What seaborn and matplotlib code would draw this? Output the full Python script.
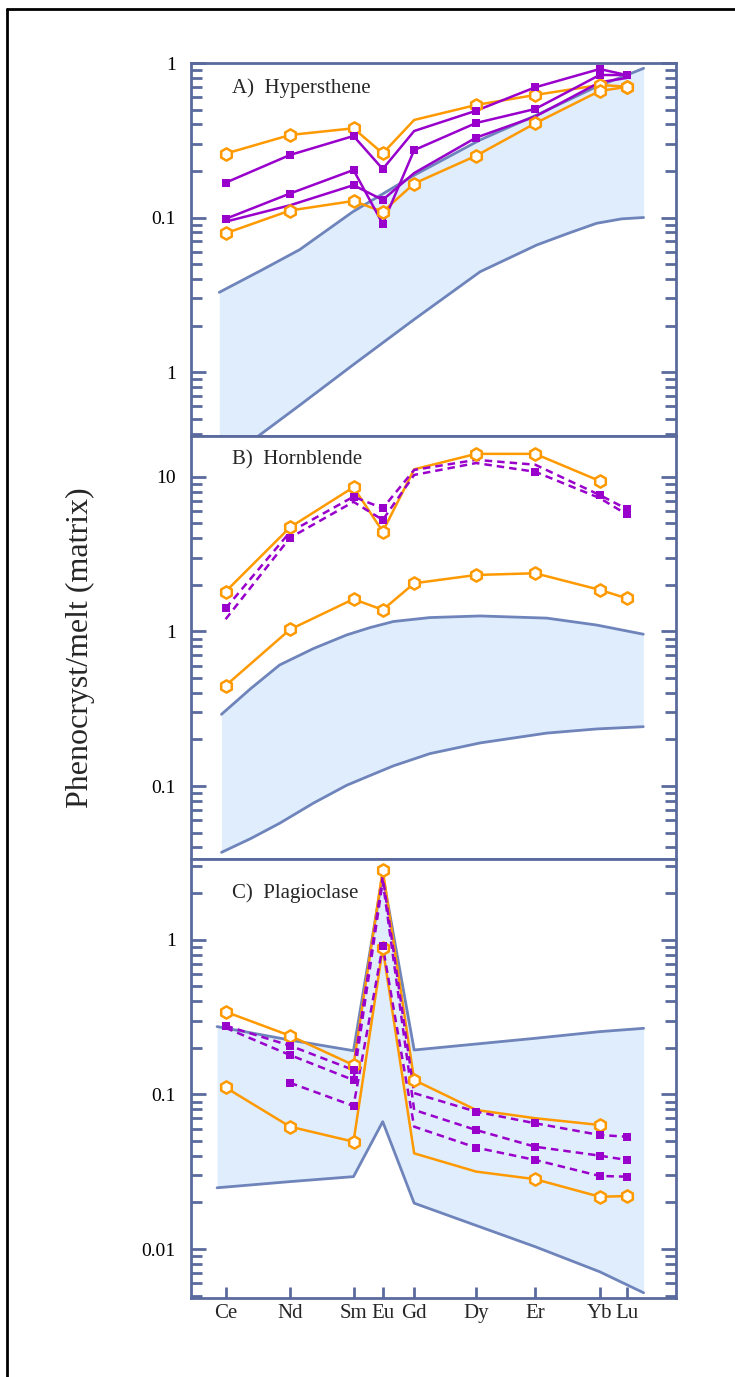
import numpy as np
import pandas as pd
import matplotlib.pyplot as plt
from matplotlib.ticker import LogLocator, NullFormatter
from matplotlib.lines import Line2D
import seaborn as sns

nan = np.nan

# REE on the x axis (positions as spaced in the original figure)
elements = ['Ce', 'Nd', 'Sm', 'Eu', 'Gd', 'Dy', 'Er', 'Yb', 'Lu']
element_x = [0, 2.05, 4.07, 5.0, 6.0, 7.97, 9.85, 11.9, 12.76]

# A) Hypersthene
hyp_orange_1 = [0.259, 0.342, 0.378, 0.260, 0.428, 0.535, 0.621, 0.721, 0.703]
hyp_orange_2 = [0.079, 0.111, 0.128, 0.109, 0.166, 0.251, 0.407, 0.659, 0.70]
hyp_purple_1 = [0.168, 0.254, 0.337, 0.206, 0.363, 0.491, 0.696, 0.914, 0.836]
hyp_purple_2 = [0.098, 0.143, 0.203, 0.091, 0.273, 0.409, 0.504, 0.836, 0.836]
hyp_purple_3 = [0.094, 0.120, 0.162, 0.130, 0.194, 0.329, 0.45, 0.75, 0.80]
hyp_band_x = [-0.2, 1.15, 2.36, 4.05, 5.96, 8.1, 9.9, 10.9, 11.8, 12.6, 13.3]
hyp_band_hi = [0.0328, 0.0457, 0.062, 0.109, 0.186, 0.318, 0.461, 0.575, 0.703, 0.81, 0.924]
hyp_band_lo = [0.0025, 0.0040, 0.0061, 0.0111, 0.0216, 0.0446, 0.0664, 0.079, 0.0917, 0.098, 0.100]

# B) Hornblende
hbl_orange_1 = [1.81, 4.72, 8.58, 4.43, 11.2, 14.1, 14.1, 9.42, nan]
hbl_orange_2 = [0.446, 1.03, 1.62, 1.38, 2.05, 2.32, 2.38, 1.86, 1.64]
hbl_purple_1 = [1.41, 4.4, 7.45, 6.27, 11.1, 12.9, 12.0, 7.64, 6.21]
hbl_purple_2 = [1.2, 4.04, 6.9, 5.27, 10.3, 12.3, 10.8, 7.3, 5.73]
hbl_band_x = [-0.13, 0.8, 1.72, 2.8, 3.85, 4.6, 5.34, 6.5, 8.10, 10.22, 11.81, 13.29]
hbl_band_hi = [0.291, 0.427, 0.607, 0.776, 0.949, 1.06, 1.16, 1.23, 1.26, 1.22, 1.10, 0.96]
hbl_band_lo = [0.0372, 0.0457, 0.0574, 0.0776, 0.101, 0.117, 0.135, 0.162, 0.19, 0.22, 0.234, 0.242]

# C) Plagioclase
plg_orange_1 = [0.343, 0.240, 0.155, 2.84, 0.124, 0.0794, 0.0702, 0.0635, nan]
plg_orange_2 = [0.111, 0.0619, 0.0495, 0.884, 0.0416, 0.0317, 0.0283, 0.0218, 0.0220]
plg_purple_1 = [0.279, 0.207, 0.144, 2.57, 0.102, 0.0774, 0.0651, 0.0547, 0.0533]
plg_purple_2 = [0.27, 0.180, 0.124, 2.4, 0.0794, 0.0589, 0.0459, 0.0402, 0.0377]
plg_purple_3 = [nan, 0.119, 0.0843, 0.914, 0.0619, 0.0453, 0.0377, 0.0297, 0.0294]
plg_band_x = [-0.27, 2.05, 4.07, 5.0, 6.0, 9.85, 11.9, 13.3]
plg_band_hi = [0.275, 0.225, 0.192, 2.64, 0.194, 0.231, 0.255, 0.268]
plg_band_lo = [0.0249, 0.0273, 0.0294, 0.0667, 0.0198, 0.01035, 0.00713, 0.00521]

ORANGE = '#FF9900'
PURPLE = '#9900CC'
BAND_FILL = '#DFEDFD'
BAND_LINE = '#6E84BA'
AXIS = '#5A6A9C'

sns.set_style('ticks')
plt.rcParams['font.family'] = ['Liberation Serif', 'DejaVu Serif']


def draw_band(ax, bx, lo, hi):
    ax.fill_between(bx, lo, hi, color=BAND_FILL, lw=0, zorder=1)
    for yy in (lo, hi):
        sns.lineplot(x=bx, y=yy, ax=ax, color=BAND_LINE, lw=2, zorder=2)


def draw_sample(ax, vals, color, dashed=False, skip=()):
    df = pd.DataFrame({'el': elements, 'x': element_x, 'v': vals}).dropna()
    ls = (0, (3, 2)) if dashed else '-'
    sns.lineplot(data=df, x='x', y='v', ax=ax, color=color, lw=1.8,
                 linestyle=ls, zorder=3, errorbar=None)
    pts = df[~df['el'].isin(skip)]
    if color == ORANGE:
        sns.scatterplot(data=pts, x='x', y='v', ax=ax, marker='h', s=78,
                        color='white', edgecolor=ORANGE, linewidth=1.8, zorder=4)
    else:
        sns.scatterplot(data=pts, x='x', y='v', ax=ax, marker='s', s=34,
                        color=PURPLE, edgecolor=PURPLE, linewidth=0, zorder=4)


fig, axes = plt.subplots(3, 1, figsize=(7.35, 13.77), dpi=100, sharex=True,
                         gridspec_kw={'height_ratios': [373, 423, 439], 'hspace': 0})
fig.subplots_adjust(left=191 / 735, right=676 / 735, top=1 - 63 / 1377, bottom=1 - 1298 / 1377)
ax_a, ax_b, ax_c = axes
for ax in axes:
    ax.set_yscale('log')

# panel A
draw_band(ax_a, hyp_band_x, hyp_band_lo, hyp_band_hi)
draw_sample(ax_a, hyp_orange_1, ORANGE, skip=('Gd',))
draw_sample(ax_a, hyp_orange_2, ORANGE)
draw_sample(ax_a, hyp_purple_3, PURPLE, skip=('Ce', 'Nd', 'Gd', 'Er', 'Yb', 'Lu'))
draw_sample(ax_a, hyp_purple_2, PURPLE)
draw_sample(ax_a, hyp_purple_1, PURPLE, skip=('Gd',))

# panel B
draw_band(ax_b, hbl_band_x, hbl_band_lo, hbl_band_hi)
draw_sample(ax_b, hbl_orange_2, ORANGE)
draw_sample(ax_b, hbl_orange_1, ORANGE, skip=('Gd',))
draw_sample(ax_b, hbl_purple_1, PURPLE, dashed=True, skip=('Nd', 'Gd', 'Dy', 'Er'))
draw_sample(ax_b, hbl_purple_2, PURPLE, dashed=True, skip=('Ce', 'Sm', 'Gd', 'Dy', 'Yb'))

# panel C
draw_band(ax_c, plg_band_x, plg_band_lo, plg_band_hi)
draw_sample(ax_c, plg_orange_1, ORANGE, skip=('Dy', 'Er'))
draw_sample(ax_c, plg_orange_2, ORANGE, skip=('Gd', 'Dy'))
draw_sample(ax_c, plg_purple_1, PURPLE, dashed=True, skip=('Eu', 'Gd'))
draw_sample(ax_c, plg_purple_2, PURPLE, dashed=True, skip=('Ce', 'Eu', 'Gd'))
draw_sample(ax_c, plg_purple_3, PURPLE, dashed=True, skip=('Gd',))

limits = [(10 ** -2.414, 1.0), (0.0337, 18.4), (0.00482, 3.34)]
yticks = [([0.01, 0.1, 1], ['1', '0.1', '1']),
          ([0.1, 1, 10], ['0.1', '1', '10']),
          ([0.01, 0.1, 1], ['0.01', '0.1', '1'])]
titles = ['A)  Hypersthene', 'B)  Hornblende', 'C)  Plagioclase']
title_y = [0.933, 0.943, 0.923]

for ax, lim, (tk, lb), ttl, ty in zip(axes, limits, yticks, titles, title_y):
    ax.set_ylim(*lim)
    ax.set_xlim(-1.1, 14.33)
    ax.set_yticks(tk, labels=lb)
    ax.yaxis.set_minor_locator(LogLocator(base=10, subs=np.arange(2, 10), numticks=20))
    ax.yaxis.set_minor_formatter(NullFormatter())
    ax.tick_params(axis='y', which='major', direction='in', left=True, right=True,
                   length=11, width=2, color=AXIS, labelsize=14, pad=11, labelcolor='black')
    ax.tick_params(axis='y', which='minor', direction='in', left=True, right=True,
                   length=8, width=2, color=AXIS)
    for sp in ax.spines.values():
        sp.set_color(AXIS)
        sp.set_linewidth(2)
        sp.set_zorder(5)
    ax.set_xlabel('')
    ax.set_ylabel('')
    ax.text(0.085, ty, ttl, transform=ax.transAxes, fontsize=15, va='center', ha='left')

for ax in (ax_a, ax_b):
    ax.tick_params(axis='x', which='both', bottom=False, top=False, labelbottom=False)

ax_c.set_xticks(element_x, labels=elements)
ax_c.tick_params(axis='x', which='major', direction='in', bottom=True, top=False,
                 length=8, width=2, color=AXIS, labelsize=15, pad=4)
ax_c.tick_params(axis='x', which='minor', bottom=False, top=False)

fig.text(80 / 735, 1 - 648 / 1377, 'Phenocryst/melt (matrix)', rotation=90,
         fontsize=23, ha='center', va='center')

# frame around the figure
fig.add_artist(Line2D([7.5 / 735, 7.5 / 735], [0, 1 - 8.5 / 1377],
                      transform=fig.transFigure, color='black', lw=2))
fig.add_artist(Line2D([7.5 / 735, 1], [1 - 8.5 / 1377, 1 - 8.5 / 1377],
                      transform=fig.transFigure, color='black', lw=2))

fig.savefig('out.png', dpi=100)
